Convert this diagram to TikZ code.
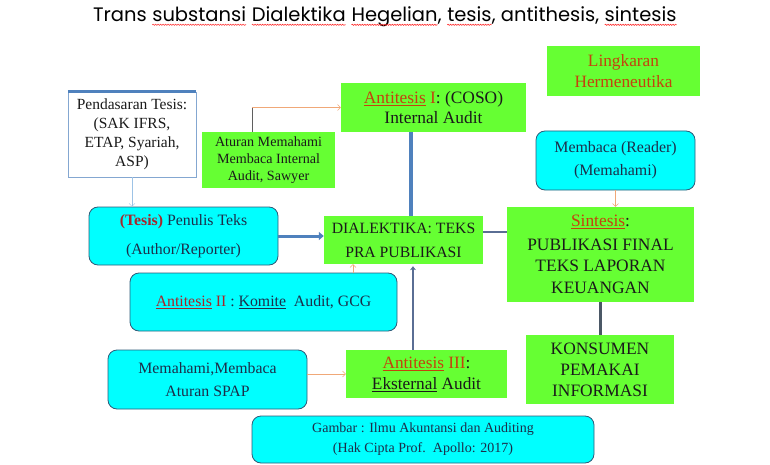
\documentclass[tikz,border=0pt]{standalone}
\usepackage{fontspec}
\setmainfont{Liberation Serif}
\newfontfamily\titlefont{Poppins}
\usepackage{xcolor}
\usepackage{tikz}
\usetikzlibrary{arrows.meta,decorations.pathmorphing}
\definecolor{Harlequin}{HTML}{66FF33}
\definecolor{Aqua}{HTML}{00FFFF}
\definecolor{Chathams}{HTML}{2E5A78}
\definecolor{SteelBlue}{HTML}{4F81BD}
\definecolor{Kashmir}{HTML}{5A6E94}
\definecolor{Fiord}{HTML}{4B5866}
\definecolor{Apricot}{HTML}{F0A878}
\definecolor{SkyBlue}{HTML}{9DC3E6}
\definecolor{Rust}{HTML}{C4420E}
\definecolor{Maroon}{HTML}{A6262C}
\definecolor{Ink}{HTML}{1A1A1A}
\definecolor{Navy}{HTML}{1C2E4A}
\newcommand{\clr}{\textcolor{Rust}}
\newcommand{\clm}{\textcolor{Maroon}}
\newcommand{\sqg}[1]{\tikz[baseline=(sq.base)]{\node[inner sep=0pt,outer sep=0pt,draw=none,fill=none] (sq) {#1};
    \draw[red!80,line width=0.6pt,decorate,decoration={snake,amplitude=0.6pt,segment length=2.5pt}] ([yshift=-3pt]sq.base west) -- ([yshift=-3pt]sq.base east);}}
\newcommand{\fs}[2]{\fontsize{#1}{#2}\selectfont}

\begin{document}
\begin{tikzpicture}[x=1pt,y=-1pt,
    gbox/.style={fill=Harlequin,text=Ink,align=center,inner sep=2pt},
    cbox/.style={fill=Aqua,draw=Chathams,thick,rounded corners=9pt,text=Navy,align=center,inner sep=2pt},
    orarrow/.style={draw=Apricot,thin,-{Straight Barb[length=3pt,width=6pt]}},
    thicklink/.style={draw=SteelBlue,line width=3.5pt}]
    \useasboundingbox (0,0) rectangle (770,465);
    \node (title) at (385,17) {\titlefont\fs{19.5}{22}Trans \sqg{substansi} \sqg{Dialektika} \sqg{Hegelian}, \sqg{tesis}, antithesis, \sqg{sintesis}};

    % top row
    \node[draw=SteelBlue!70,fill=white,minimum width=128pt,minimum height=85pt,align=center,text=Ink,font=\fs{15.5}{19}] (pend) at (132,134.5) {Pendasaran Tesis:\\(SAK IFRS,\\ETAP, Syariah,\\ASP)};
    \draw[SteelBlue,line width=3pt] (pend.north west) -- (pend.north east);
    \node[gbox,minimum width=133pt,minimum height=56pt,font=\fs{14.1}{17}] (atur) at (268.5,160) {Aturan Memahami\\Membaca Internal\\Audit, Sawyer};
    \node[gbox,minimum width=185pt,minimum height=49pt,font=\fs{17.4}{20.5}] (anti1) at (433.5,107.5) {\clr{\underline{Antitesis} I}: (COSO)\\Internal Audit};
    \node[gbox,minimum width=153pt,minimum height=50pt,text=Rust,font=\fs{17.3}{21}] (ling) at (623.5,71) {Lingkaran\\Hermeneutika};
    \node[cbox,minimum width=159pt,minimum height=59pt,font=\fs{15.9}{23}] (reader) at (615.5,160.5) {Membaca (Reader)\\(Memahami)};

    % middle row
    \node[cbox,minimum width=189pt,minimum height=58pt,font=\fs{15.8}{29}] (tesis) at (183.5,236) {\textbf{\clm{(Tesis)}} Penulis Teks\\(Author/Reporter)};
    \node[gbox,minimum width=159pt,minimum height=48pt,font=\fs{15.7}{24}] (dial) at (403.5,240) {DIALEKTIKA: TEKS\\PRA PUBLIKASI};
    \node[gbox,minimum width=187pt,minimum height=95pt,font=\fs{17.4}{21.5}] (sint) at (600.5,254.5) {\clr{\underline{Sintesis}}:\\[2pt]PUBLIKASI FINAL\\TEKS LAPORAN\\KEUANGAN};
    \node[cbox,minimum width=267pt,minimum height=58pt,font=\fs{15.8}{19}] (anti2) at (263.5,302) {\clm{\underline{Antitesis} II} : \underline{Komite}\ \ Audit, GCG};

    % bottom row
    \node[cbox,minimum width=199pt,minimum height=59pt,font=\fs{15.8}{23}] (memb) at (207.5,379.5) {Memahami,Membaca\\Aturan SPAP};
    \node[gbox,minimum width=161pt,minimum height=48pt,font=\fs{17.3}{21}] (anti3) at (426.5,374) {\clr{\underline{Antitesis} III}:\\\underline{Eksternal} Audit};
    \node[gbox,minimum width=148pt,minimum height=69pt,font=\fs{17.4}{21}] (kons) at (600,369.5) {KONSUMEN\\PEMAKAI\\INFORMASI};
    \node[cbox,minimum width=342pt,minimum height=47pt,font=\fs{14}{20}] (gamb) at (423,439.5) {Gambar : Ilmu Akuntansi dan Auditing\\(Hak Cipta Prof.\ \ Apollo: 2017)};

    % links
    \coordinate (bend) at (252,107.5);
    \coordinate (spine) at (411,0);
    \coordinate (kink2) at (353,0);
    \coordinate (kink3) at (413,0);
    \draw[draw=SkyBlue,thin,-{Straight Barb[length=3pt,width=6pt]}] (pend.south) -- (pend.south |- tesis.north);
    \draw[draw=Ink!70,thin] (atur.north -| bend) -- (bend);
    \draw[orarrow] (bend) -- (anti1.west);
    \draw[thicklink] (anti1.south -| spine) -- (dial.north -| spine);
    \draw[thicklink,line width=3pt,-{Triangle[length=5pt,width=8pt]}] (tesis.east) -- (tesis.east -| dial.west);
    \draw[draw=Kashmir,line width=2.5pt] ([yshift=8pt]dial.east) -- ([yshift=8pt]dial.east -| sint.west);
    \draw[orarrow] (anti2.north -| kink2) -- (dial.south -| kink2);
    \draw[draw=Kashmir,line width=2.5pt,-{Stealth[length=4pt,width=6pt]}] (anti3.north -| kink3) -- ([yshift=-2pt]dial.south -| kink3);
    \draw[orarrow] (memb.east |- anti3.west) -- (anti3.west);
    \draw[orarrow] (reader.south) -- (reader.south |- sint.north);
    \draw[draw=Fiord,line width=3pt] (sint.south) -- (sint.south |- kons.north);
\end{tikzpicture}
\end{document}
